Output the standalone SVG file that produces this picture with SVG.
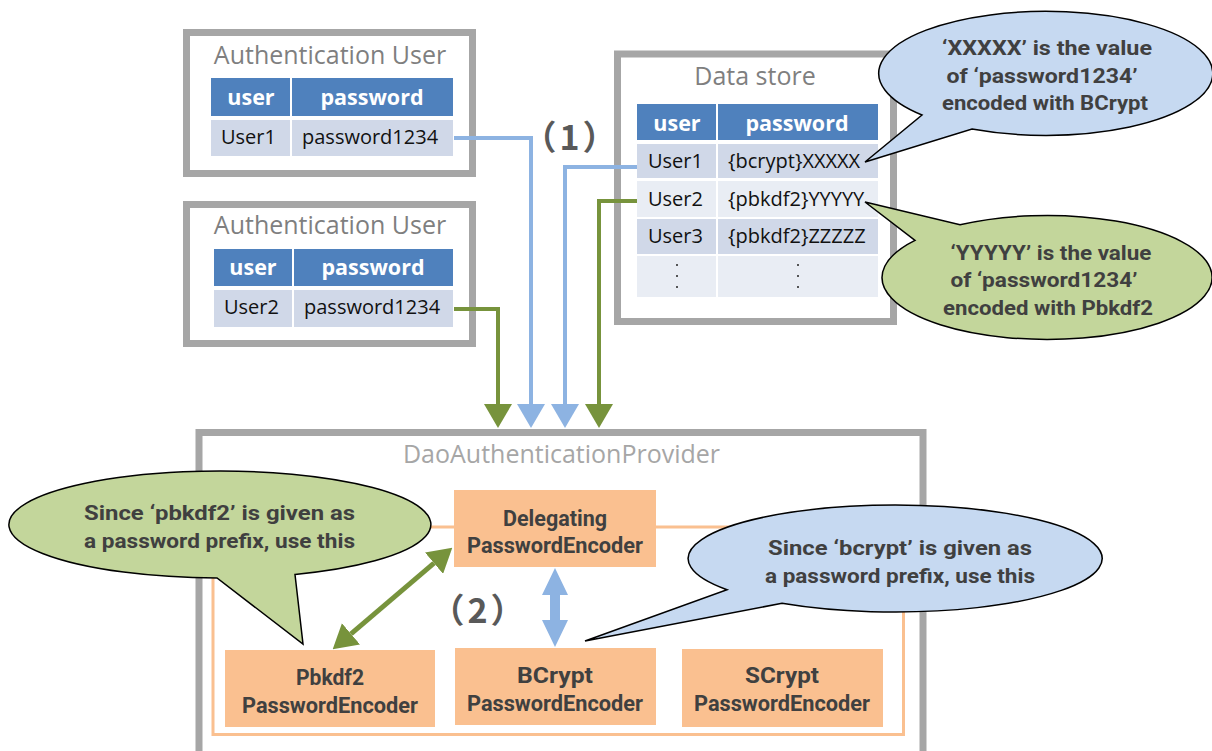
<svg xmlns="http://www.w3.org/2000/svg" width="1212" height="751" viewBox="0 0 1212 751">
<defs>
<style>
.frame{fill:#fff;stroke:#a6a6a6;stroke-width:7}
.title{font-family:"Open Sans","Noto Sans",sans-serif;font-size:25px;fill:#7f7f7f}
.hdr{fill:#4f81bd}
.rowd{fill:#d0d8e8}
.rowl{fill:#e9edf4}
.ht{font-family:"Open Sans","Noto Sans",sans-serif;font-size:21.5px;font-weight:bold;fill:#fff;text-anchor:middle}
.ct{font-family:"Open Sans","Noto Sans",sans-serif;font-size:20px;fill:#111}
.enc{fill:#fac090}
.et{font-family:Roboto,"Noto Sans",sans-serif;font-size:22px;font-weight:bold;fill:#404040;text-anchor:middle}
.bt{font-family:Roboto,"Noto Sans",sans-serif;font-size:21px;font-weight:bold;fill:#404040;text-anchor:middle}
.num{font-family:"Noto Sans CJK JP","Noto Sans",sans-serif;font-size:34px;font-weight:bold;fill:#595959;text-anchor:middle}
.bblue{fill:#c6d9f1;stroke:#000;stroke-width:1.5;stroke-linejoin:miter}
.bgreen{fill:#c3d69b;stroke:#000;stroke-width:1.5;stroke-linejoin:miter}
.lblue{fill:none;stroke:#8db3e2;stroke-width:4}
.lgreen{fill:none;stroke:#77933c;stroke-width:4}
</style>
<marker id="ahBlue" viewBox="0 0 24 28" markerWidth="24" markerHeight="28" markerUnits="userSpaceOnUse" refX="0" refY="14" orient="auto-start-reverse"><path d="M0,0 L24,14 L0,28 Z" fill="#8db3e2"/></marker>
<marker id="ahGreen" viewBox="0 0 24 28" markerWidth="24" markerHeight="28" markerUnits="userSpaceOnUse" refX="0" refY="14" orient="auto-start-reverse"><path d="M0,0 L24,14 L0,28 Z" fill="#77933c"/></marker>
</defs>

<!-- DaoAuthenticationProvider container -->
<g id="dao">
<rect class="frame" x="199" y="432.5" width="724" height="340"/>
<text x="561.5" y="463" style="font-family:'Open Sans','Noto Sans',sans-serif;font-size:25px;fill:#a6a6a6" text-anchor="middle">DaoAuthenticationProvider</text>
<rect x="213" y="527" width="690.5" height="207.5" fill="none" stroke="#fac090" stroke-width="3"/>
</g>

<!-- Authentication User 1 -->
<g id="authUser1">
<rect class="frame" x="186.5" y="32.5" width="286" height="141"/>
<text class="title" x="330" y="64" text-anchor="middle">Authentication User</text>
<rect class="hdr" x="211" y="78" width="79" height="38"/>
<rect class="hdr" x="292" y="78" width="161" height="38"/>
<rect class="rowd" x="211" y="120" width="79" height="36"/>
<rect class="rowd" x="292" y="120" width="161" height="36"/>
<text class="ht" x="251" y="105">user</text>
<text class="ht" x="372" y="105">password</text>
<text class="ct" x="221" y="144">User1</text>
<text class="ct" x="302" y="144">password1234</text>
</g>

<!-- Authentication User 2 -->
<g id="authUser2">
<rect class="frame" x="186.5" y="204.5" width="286" height="139"/>
<text class="title" x="330" y="234" text-anchor="middle">Authentication User</text>
<rect class="hdr" x="214" y="249" width="78" height="37"/>
<rect class="hdr" x="294" y="249" width="159" height="37"/>
<rect class="rowd" x="214" y="290" width="78" height="37"/>
<rect class="rowd" x="294" y="290" width="159" height="37"/>
<text class="ht" x="253" y="275">user</text>
<text class="ht" x="373" y="275">password</text>
<text class="ct" x="224" y="314">User2</text>
<text class="ct" x="304" y="314">password1234</text>
</g>

<!-- Data store -->
<g id="dataStore">
<rect class="frame" x="617.5" y="54" width="276" height="267.5"/>
<text class="title" x="755" y="85" text-anchor="middle">Data store</text>
<rect class="hdr" x="637" y="104" width="79" height="36"/>
<rect class="hdr" x="718" y="104" width="160" height="36"/>
<rect class="rowd" x="637" y="144" width="79" height="34"/>
<rect class="rowd" x="718" y="144" width="160" height="34"/>
<rect class="rowl" x="637" y="181" width="79" height="36"/>
<rect class="rowl" x="718" y="181" width="160" height="36"/>
<rect class="rowd" x="637" y="219" width="79" height="35"/>
<rect class="rowd" x="718" y="219" width="160" height="35"/>
<rect class="rowl" x="637" y="256" width="79" height="41"/>
<rect class="rowl" x="718" y="256" width="160" height="41"/>
<text class="ht" x="677" y="131">user</text>
<text class="ht" x="797" y="131">password</text>
<text class="ct" x="648" y="168">User1</text>
<text class="ct" x="728" y="168">{bcrypt}XXXXX</text>
<text class="ct" x="648" y="206">User2</text>
<text class="ct" x="728" y="206">{pbkdf2}YYYYY</text>
<text class="ct" x="648" y="243">User3</text>
<text class="ct" x="728" y="243">{pbkdf2}ZZZZZ</text>
<g fill="#222">
<circle cx="677" cy="265" r="1"/><circle cx="677" cy="276" r="1"/><circle cx="677" cy="287" r="1"/>
<circle cx="798" cy="265" r="1"/><circle cx="798" cy="276" r="1"/><circle cx="798" cy="287" r="1"/>
</g>
</g>

<!-- Encoders -->
<g id="delegating">
<rect class="enc" x="454" y="490" width="202" height="77"/>
<text class="et" x="555" y="526" textLength="104" lengthAdjust="spacingAndGlyphs">Delegating</text>
<text class="et" x="555" y="553" textLength="176" lengthAdjust="spacingAndGlyphs">PasswordEncoder</text>
</g>
<g id="pbkdf2">
<rect class="enc" x="225" y="650" width="210" height="77"/>
<text class="et" x="330" y="685" textLength="68" lengthAdjust="spacingAndGlyphs">Pbkdf2</text>
<text class="et" x="330" y="713" textLength="176" lengthAdjust="spacingAndGlyphs">PasswordEncoder</text>
</g>
<g id="bcrypt">
<rect class="enc" x="455" y="648" width="201" height="77"/>
<text class="et" x="555" y="683" textLength="76" lengthAdjust="spacingAndGlyphs">BCrypt</text>
<text class="et" x="555" y="711" textLength="176" lengthAdjust="spacingAndGlyphs">PasswordEncoder</text>
</g>
<g id="scrypt">
<rect class="enc" x="682" y="649" width="201" height="78"/>
<text class="et" x="782" y="683" textLength="74" lengthAdjust="spacingAndGlyphs">SCrypt</text>
<text class="et" x="782" y="711" textLength="176" lengthAdjust="spacingAndGlyphs">PasswordEncoder</text>
</g>

<!-- Connectors -->
<g id="connectors">
<path class="lblue" d="M454,138 H531 V404" marker-end="url(#ahBlue)"/>
<path class="lblue" d="M637,167 H565 V404" marker-end="url(#ahBlue)"/>
<path class="lgreen" d="M454,309 H498 V404" marker-end="url(#ahGreen)"/>
<path class="lgreen" d="M637,201 H599 V404" marker-end="url(#ahGreen)"/>
<polygon fill="#8db3e2" points="555,568 568,595 560,595 560,620 568,620 555,647 542,620 550,620 550,595 542,595"/>
<path d="M351,633.8 L434,563.2" fill="none" stroke="#77933c" stroke-width="5" marker-start="url(#ahGreen)" marker-end="url(#ahGreen)"/>
</g>

<g id="label1"><text class="num" x="571" y="150" letter-spacing="3">（1）</text></g>
<g id="label2"><text class="num" x="479" y="623" letter-spacing="3">（2）</text></g>

<!-- Speech bubbles -->
<g id="bubbleBcryptValue">
<path class="bblue" d="M922,115 A167,62 0 1 1 972,129 L865,162 Z"/>
<text class="bt" x="1047" y="55" textLength="210" lengthAdjust="spacingAndGlyphs">‘XXXXX’ is the value</text>
<text class="bt" x="1042" y="83" textLength="191" lengthAdjust="spacingAndGlyphs">of ‘password1234’</text>
<text class="bt" x="1045" y="110" textLength="206" lengthAdjust="spacingAndGlyphs">encoded with BCrypt</text>
</g>
<g id="bubblePbkdf2Value">
<path class="bgreen" d="M960,224.8 A165,62 0 1 1 915,240.3 L865,202 Z"/>
<text class="bt" x="1051" y="260" textLength="201" lengthAdjust="spacingAndGlyphs">‘YYYYY’ is the value</text>
<text class="bt" x="1044" y="287" textLength="187" lengthAdjust="spacingAndGlyphs">of ‘password1234’</text>
<text class="bt" x="1048" y="315" textLength="210" lengthAdjust="spacingAndGlyphs">encoded with Pbkdf2</text>
</g>
<g id="bubblePbkdf2Use">
<path class="bgreen" d="M295,574.5 A211,53.5 0 1 0 217,578 L303,644 Z"/>
<text class="bt" x="219.5" y="520" textLength="271" lengthAdjust="spacingAndGlyphs">Since ‘pbkdf2’ is given as</text>
<text class="bt" x="219.5" y="548" textLength="271" lengthAdjust="spacingAndGlyphs">a password prefix, use this</text>
</g>
<g id="bubbleBcryptUse">
<path class="bblue" d="M727,589.7 A207,53.5 0 1 1 782,603.3 L585,641 Z"/>
<text class="bt" x="900" y="555" textLength="264" lengthAdjust="spacingAndGlyphs">Since ‘bcrypt’ is given as</text>
<text class="bt" x="900" y="583" textLength="270" lengthAdjust="spacingAndGlyphs">a password prefix, use this</text>
</g>
</svg>
